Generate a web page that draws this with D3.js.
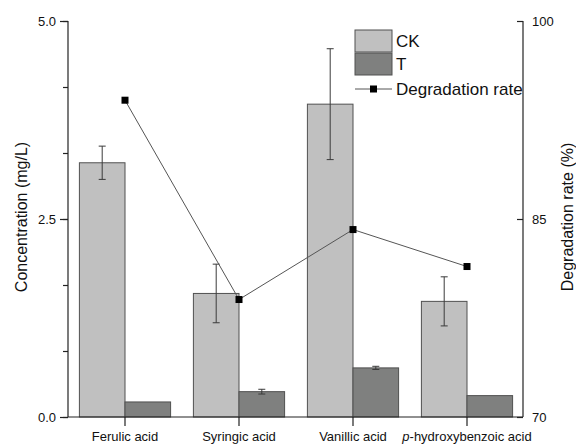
<!DOCTYPE html>
<html>
<head>
<meta charset="utf-8">
<script src="https://cdn.jsdelivr.net/npm/d3@7"></script>
<style>
  html, body { margin: 0; padding: 0; background: #fff; }
  svg { display: block; font-family: "Liberation Sans", Arial, sans-serif; }
</style>
</head>
<body>
<svg id="chart" width="576" height="445"></svg>
<script>
// Phenolic acid concentrations (mg/L) and degradation rate (%)
const categories = ["Ferulic acid", "Syringic acid", "Vanillic acid", "p-hydroxybenzoic acid"];
const ckValues = [3.21, 1.56, 3.95, 1.46];
const ckErrors = [0.21, 0.37, 0.70, 0.31];
const tValues = [0.19, 0.32, 0.62, 0.27];
const tErrors = [0.00, 0.03, 0.02, 0.00];
const degradationRate = [94.0, 78.9, 84.2, 81.4];
const leftTicks = [0, 2.5, 5.0];
const rightTicks = [70, 85, 100];

const svg = d3.select("#chart");
const plotLeft = 68, plotRight = 524, plotTop = 21, plotBottom = 417;

const x = d3.scaleBand().domain(categories).range([plotLeft, plotRight]).paddingInner(0.2).paddingOuter(0.1);
const y = d3.scaleLinear().domain([0, 5]).range([plotBottom, plotTop]);
const y2 = d3.scaleLinear().domain([70, 100]).range([plotBottom, plotTop]);
const half = x.bandwidth() / 2;

const ckFill = "#c0c0c0", tFill = "#7f807f", edge = "#505050";

// Bars
const g = svg.append("g");
g.selectAll("rect.ck").data(categories).join("rect")
  .attr("x", d => x(d)).attr("width", half)
  .attr("y", (d, i) => y(ckValues[i])).attr("height", (d, i) => y(0) - y(ckValues[i]))
  .attr("fill", ckFill).attr("stroke", edge).attr("stroke-width", 1);
g.selectAll("rect.t").data(categories).join("rect")
  .attr("x", d => x(d) + half).attr("width", half)
  .attr("y", (d, i) => y(tValues[i])).attr("height", (d, i) => y(0) - y(tValues[i]))
  .attr("fill", tFill).attr("stroke", edge).attr("stroke-width", 1);

// Error bars
function errorBars(values, errors, offset) {
  const eg = svg.append("g").attr("stroke", "#3a3a3a").attr("stroke-width", 1);
  categories.forEach((c, i) => {
    if (errors[i] <= 0) return;
    const cx = x(c) + offset;
    const y0 = y(values[i] + errors[i]), y1 = y(values[i] - errors[i]);
    eg.append("line").attr("x1", cx).attr("x2", cx).attr("y1", y0).attr("y2", y1);
    eg.append("line").attr("x1", cx - 3.5).attr("x2", cx + 3.5).attr("y1", y0).attr("y2", y0);
    eg.append("line").attr("x1", cx - 3.5).attr("x2", cx + 3.5).attr("y1", y1).attr("y2", y1);
  });
}
errorBars(ckValues, ckErrors, half / 2);
errorBars(tValues, tErrors, half * 1.5);

// Degradation rate line
const cxOf = c => x(c) + half;
svg.append("path")
  .datum(categories)
  .attr("d", d3.line().x(d => cxOf(d)).y((d, i) => y2(degradationRate[i])))
  .attr("fill", "none").attr("stroke", "#555").attr("stroke-width", 1);
svg.selectAll("rect.pt").data(categories).join("rect")
  .attr("x", d => cxOf(d) - 3.5).attr("y", (d, i) => y2(degradationRate[i]) - 3.5)
  .attr("width", 7).attr("height", 7).attr("fill", "#000");

// Axes
const axisColor = "#222";
const leftAxis = svg.append("g").attr("transform", `translate(${plotLeft},0)`)
  .call(d3.axisLeft(y).tickValues(d3.range(0, 7).map(k => k * 5 / 6)).tickSize(5).tickFormat(""));
leftAxis.call(s => s.select(".domain").attr("d", `M0,${plotTop}V${plotBottom}`));
const leftMajor = svg.append("g").attr("transform", `translate(${plotLeft},0)`)
  .call(d3.axisLeft(y).tickValues(leftTicks).tickSize(8).tickPadding(4).tickFormat(d3.format(".1f")));
leftMajor.select(".domain").remove();

const rightAxis = svg.append("g").attr("transform", `translate(${plotRight - 1},0)`)
  .call(d3.axisRight(y2).tickValues(rightTicks).tickSize(-6).tickPadding(9).tickFormat(d3.format("d")));
rightAxis.call(s => s.select(".domain").attr("d", `M0,${plotTop}V${plotBottom}`));

const bottomAxis = svg.append("g").attr("transform", `translate(0,${plotBottom})`)
  .call(d3.axisBottom(x).tickSize(9).tickPadding(6).tickFormat(""));
bottomAxis.call(s => s.select(".domain").attr("d", `M${plotLeft},0H${plotRight - 1}`));

svg.selectAll(".domain, .tick line").attr("stroke", axisColor).attr("stroke-width", 1.2);
svg.selectAll(".tick text").attr("fill", "#111").attr("font-size", 13).attr("font-family", "Liberation Sans, Arial, sans-serif");

// Category labels (p in italics)
const lab = svg.append("g").attr("font-size", 13).attr("fill", "#111").attr("text-anchor", "middle");
categories.forEach(c => {
  const t = lab.append("text").attr("x", cxOf(c)).attr("y", 441);
  if (c.startsWith("p-")) {
    t.append("tspan").attr("font-style", "italic").text("p");
    t.append("tspan").text(c.slice(1));
  } else {
    t.text(c);
  }
});

// Axis titles
svg.append("text").attr("transform", `translate(27,217) rotate(-90)`)
  .attr("text-anchor", "middle").attr("font-size", 16).attr("fill", "#111")
  .text("Concentration (mg/L)");
svg.append("text").attr("transform", `translate(573,217) rotate(-90)`)
  .attr("text-anchor", "middle").attr("font-size", 16).attr("fill", "#111")
  .text("Degradation rate (%)");

// Legend
const lg = svg.append("g");
const legendItems = [{ label: "CK", fill: ckFill, y: 30 }, { label: "T", fill: tFill, y: 53 }];
legendItems.forEach(it => {
  lg.append("rect").attr("x", 355).attr("y", it.y).attr("width", 37).attr("height", 22)
    .attr("fill", it.fill).attr("stroke", edge).attr("stroke-width", 1);
  lg.append("text").attr("x", 396).attr("y", it.y + 17).attr("font-size", 17).attr("fill", "#111").text(it.label);
});
lg.append("line").attr("x1", 355).attr("x2", 392).attr("y1", 89).attr("y2", 89).attr("stroke", "#555").attr("stroke-width", 1);
lg.append("rect").attr("x", 370).attr("y", 85.5).attr("width", 7).attr("height", 7).attr("fill", "#000");
lg.append("text").attr("x", 396).attr("y", 95).attr("font-size", 17).attr("fill", "#111").text("Degradation rate");
</script>
</body>
</html>
